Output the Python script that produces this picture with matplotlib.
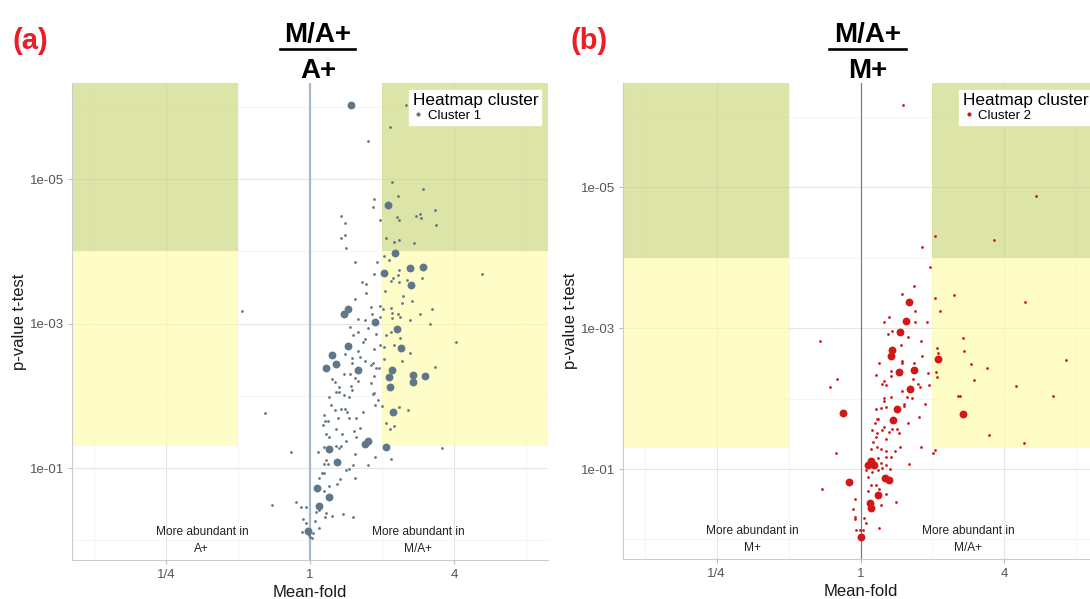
import numpy as np
import matplotlib.pyplot as plt
from matplotlib.lines import Line2D
from matplotlib.ticker import NullFormatter

plt.rcParams['font.family'] = ['Liberation Sans', 'DejaVu Sans']

# (log2 mean-fold, -log10 p)
a_small = [(1.33, 6.02), (1.11, 5.72), (0.81, 5.53), (1.14, 4.96), (1.56, 4.86), (0.89, 4.73), (1.22, 4.77),
           (0.87, 4.62), (0.43, 4.49), (0.49, 4.39), (0.97, 4.43), (1.21, 4.48), (1.24, 4.43), (1.47, 4.49),
           (1.52, 4.52), (1.54, 4.46), (1.73, 4.57), (1.75, 4.37), (0.43, 4.18), (0.49, 4.22), (1.05, 4.19),
           (1.17, 4.13), (1.24, 4.16), (1.44, 4.11), (0.50, 4.05),
           (1.03, 3.94), (1.10, 3.88), (0.93, 3.85), (0.62, 3.85), (0.89, 3.69), (1.24, 3.74), (1.22, 3.67),
           (1.15, 3.63), (1.13, 3.59), (1.23, 3.58), (1.35, 3.61), (1.55, 3.63), (2.39, 3.69), (0.72, 3.57),
           (0.77, 3.55), (0.78, 3.43), (1.04, 3.45), (1.29, 3.38), (1.41, 3.32), (1.28, 3.28), (0.62, 3.34),
           (-0.94, 3.18), (0.84, 3.23), (0.97, 3.25), (1.01, 3.20), (1.13, 3.22), (1.14, 3.15), (1.22, 3.13),
           (1.25, 3.09), (1.69, 3.20), (1.52, 3.14), (1.38, 3.05), (1.66, 3.00), (0.86, 3.13), (0.97, 3.09),
           (0.66, 3.07), (0.76, 3.05), (1.14, 3.08), (0.55, 2.96), (0.80, 2.94), (0.92, 2.86), (1.12, 2.88),
           (1.06, 2.85), (1.25, 2.80), (0.66, 2.89), (0.60, 2.85), (0.76, 2.79), (0.74, 2.75), (2.02, 2.75),
           (0.97, 2.71), (1.03, 2.68), (1.17, 2.70), (0.89, 2.65), (1.38, 2.59), (0.66, 2.62), (0.49, 2.58),
           (0.58, 2.52), (0.69, 2.54), (0.76, 2.49), (1.03, 2.51), (1.27, 2.48), (0.58, 2.46), (0.88, 2.45),
           (0.84, 2.43), (1.74, 2.40), (0.92, 2.38), (0.96, 2.38), (0.47, 2.31), (0.55, 2.31), (0.63, 2.25),
           (0.31, 2.23), (0.67, 2.20), (0.89, 2.28), (0.84, 2.18), (0.34, 2.19), (0.40, 2.13), (0.57, 2.14),
           (0.58, 2.08), (0.36, 2.05), (0.40, 2.05), (0.47, 2.01), (0.54, 1.98), (0.27, 1.98), (0.89, 2.04),
           (0.87, 2.02),
           (0.94, 1.94), (0.90, 1.88), (1.00, 1.86), (1.24, 1.85), (1.36, 1.80), (0.29, 1.87), (0.34, 1.81),
           (0.43, 1.82), (0.49, 1.82), (0.51, 1.78), (0.73, 1.78), (-0.62, 1.77), (0.20, 1.74), (0.21, 1.66),
           (0.25, 1.66), (0.18, 1.60), (0.39, 1.70), (0.54, 1.69), (0.64, 1.69), (1.06, 1.63), (1.17, 1.59),
           (1.11, 1.54), (0.69, 1.56), (0.36, 1.54), (0.61, 1.51), (0.22, 1.47), (0.26, 1.43), (0.45, 1.47),
           (0.64, 1.43), (0.50, 1.37), (1.83, 1.28), (0.36, 1.31), (0.43, 1.31), (0.40, 1.28), (0.20, 1.29),
           (-0.27, 1.22), (0.11, 1.22), (0.62, 1.20), (0.90, 1.16), (1.13, 1.13), (0.22, 1.11), (0.25, 1.06),
           (0.20, 1.06), (0.80, 1.05), (0.60, 1.04), (0.50, 0.98), (0.54, 0.99), (0.17, 0.94), (0.20, 0.94),
           (0.12, 0.86), (0.42, 0.85), (0.63, 0.86), (0.27, 0.76), (0.37, 0.78), (0.20, 0.69), (-0.53, 0.49),
           (-0.20, 0.53), (-0.12, 0.47), (-0.05, 0.47), (0.09, 0.40), (0.12, 0.42), (0.22, 0.38), (0.30, 0.34),
           (0.21, 0.32), (0.46, 0.37), (0.59, 0.32), (-0.10, 0.30), (0.07, 0.27), (-0.05, 0.24), (0.12, 0.17),
           (-0.11, 0.12), (0.04, 0.11), (0.00, 0.05), (0.03, 0.03), (-0.02, 0.07)]
a_big = [(0.57, 6.03), (1.08, 4.64), (1.18, 3.98), (1.38, 3.77), (1.56, 3.78), (1.02, 3.70), (1.40, 3.53),
         (0.52, 3.20), (0.47, 3.14), (0.90, 3.02), (1.21, 2.93), (0.52, 2.69), (1.26, 2.66), (0.30, 2.57),
         (0.36, 2.44), (0.22, 2.39), (0.67, 2.36), (1.14, 2.36), (1.43, 2.29), (1.59, 2.27), (1.10, 2.26),
         (1.43, 2.19), (1.11, 2.13), (1.15, 1.78), (0.80, 1.38), (0.76, 1.33), (1.06, 1.29), (0.26, 1.27),
         (0.37, 1.08), (0.10, 0.72), (0.26, 0.60), (0.13, 0.48), (-0.03, 0.13)]

b_small = [(0.59, 6.17), (2.44, 4.87), (1.03, 4.30), (1.86, 4.25), (0.86, 4.15),
           (0.97, 3.86), (0.74, 3.60), (0.57, 3.48), (1.03, 3.43), (1.30, 3.47), (2.28, 3.37), (0.76, 3.24),
           (1.10, 3.24), (0.40, 3.15), (0.33, 3.08), (0.76, 3.09), (0.92, 3.09), (0.44, 2.96), (0.38, 2.91),
           (0.66, 2.88), (-0.56, 2.81), (1.43, 2.86), (0.84, 2.82), (0.56, 2.76), (1.44, 2.68), (1.06, 2.71),
           (1.08, 2.65), (0.86, 2.61), (2.85, 2.54), (0.26, 2.50), (0.58, 2.53), (0.58, 2.50), (0.74, 2.50),
           (1.54, 2.49), (1.76, 2.43), (0.42, 2.39), (0.43, 2.32), (0.21, 2.34), (0.94, 2.36), (1.05, 2.37),
           (1.06, 2.30), (-0.32, 2.27), (-0.43, 2.16), (1.58, 2.26), (0.73, 2.27), (0.33, 2.25), (0.30, 2.21),
           (0.36, 2.19), (0.80, 2.21), (0.83, 2.16), (0.95, 2.19), (0.58, 2.11), (2.16, 2.18), (1.36, 2.04),
           (1.38, 2.03), (2.68, 2.03), (0.33, 2.01), (0.43, 2.02), (0.64, 2.02), (0.71, 2.01),
           (0.89, 1.92), (0.61, 1.92), (0.60, 1.90), (0.32, 1.96), (0.35, 1.88), (0.28, 1.86), (0.22, 1.85),
           (0.81, 1.74), (0.23, 1.71), (0.25, 1.71), (0.66, 1.65), (0.20, 1.65), (0.32, 1.59), (0.30, 1.56),
           (0.44, 1.57), (0.51, 1.57), (0.16, 1.56), (0.23, 1.51), (0.39, 1.52), (0.53, 1.51), (0.21, 1.45),
           (0.35, 1.42), (1.79, 1.48), (2.27, 1.37), (0.17, 1.39), (0.23, 1.31), (0.28, 1.29), (0.15, 1.29),
           (0.35, 1.26), (0.48, 1.26), (0.55, 1.31), (0.84, 1.31), (-0.34, 1.23), (1.01, 1.23), (1.04, 1.27),
           (0.25, 1.15), (0.36, 1.17), (0.43, 1.17), (0.29, 1.08), (0.36, 1.05), (0.41, 1.00), (0.30, 1.02),
           (0.67, 1.07), (0.08, 0.99), (0.16, 0.96), (0.24, 0.98), (0.11, 0.88), (0.15, 0.78), (0.22, 0.77),
           (0.26, 0.72), (-0.54, 0.71), (0.10, 0.69), (0.36, 0.65), (-0.08, 0.58), (0.49, 0.53), (0.28, 0.49),
           (-0.11, 0.43), (-0.08, 0.32), (-0.07, 0.29), (0.05, 0.31), (0.07, 0.23), (0.26, 0.16), (-0.06, 0.14),
           (-0.01, 0.13), (0.03, 0.14)]
b_big = [(0.68, 3.37), (0.63, 3.10), (0.55, 2.94), (0.44, 2.69), (0.42, 2.60), (1.07, 2.56), (0.54, 2.38),
         (0.74, 2.40), (0.69, 2.13), (0.51, 1.85), (-0.24, 1.80), (1.43, 1.78), (0.45, 1.69), (0.15, 1.11),
         (0.11, 1.05), (0.19, 1.06), (0.34, 0.87), (0.39, 0.84), (-0.16, 0.82), (0.24, 0.63), (0.13, 0.52),
         (0.15, 0.44), (0.00, 0.03)]

tags = ["(a)", "(b)"]
numerators = ["M/A+", "M/A+"]
denominators = ["A+", "M+"]
clusters = ["Cluster 1", "Cluster 2"]
left_notes = ["More abundant in\nA+", "More abundant in\nM+"]
right_notes = ["More abundant in\nM/A+", "More abundant in\nM/A+"]
x_ticks = [0.25, 1, 4]
x_ticklabels = ["1/4", "1", "4"]
y_ticks = [1e-05, 1e-03, 1e-01]
y_ticklabels = ["1e-05", "1e-03", "1e-01"]

W, H = 1090, 599
fig = plt.figure(figsize=(W / 100, H / 100), dpi=100)

# pixel boxes of the two panels: left, right, top, bottom
boxes = [(72, 548, 83, 560), (623, 1098, 83, 559)]
colors = ["#5f7788", "#d11717"]
vline_style = [dict(color="#a9b9c8", lw=1.6), dict(color="#6c7680", lw=0.8)]
title_x = [318, 868]
line_x = [(280, 355), (829, 906)]
tag_x = [12, 571]
green = (0.776, 0.824, 0.435)
yellow = (1.0, 0.99, 0.64)

for i, (small, big) in enumerate([(a_small, a_big), (b_small, b_big)]):
    l, r, t, b = boxes[i]
    ax = fig.add_axes([l / W, 1 - b / H, (r - l) / W, (b - t) / H])
    small = np.array(small).T
    big = np.array(big).T
    ax.set_xscale('log', base=2)
    ax.set_yscale('log')
    xlo, xhi = 2 ** -3.3, 2 ** 3.3
    nlp = np.concatenate([small[1], big[1]])
    pad = 0.05 * (nlp.max() - nlp.min())
    ybot, ytop = 10 ** (pad - nlp.min()), 10 ** -(nlp.max() + pad)
    ax.set_xlim(xlo, xhi)
    ax.set_ylim(ybot, ytop)

    for x0, x1 in [(xlo, 0.5), (2, xhi)]:
        ax.fill_between([x0, x1], 1e-4, ytop, color=green, alpha=0.6, lw=0, zorder=1)
        ax.fill_between([x0, x1], 0.05, 1e-4, color=yellow, alpha=0.6, lw=0, zorder=1)
    ax.axvline(1, zorder=2, **vline_style[i])

    ax.scatter(2 ** small[0], 10 ** -small[1], s=4, color=colors[i], lw=0, zorder=3)
    ax.scatter(2 ** big[0], 10 ** -big[1], s=32, color=colors[i], lw=0, zorder=3)

    ax.text(2 ** -1.5, 1, left_notes[i], ha='center', va='center', fontsize=8.6,
            linespacing=1.55, color='#222222', zorder=4)
    ax.text(2 ** 1.5, 1, right_notes[i], ha='center', va='center', fontsize=8.6,
            linespacing=1.55, color='#222222', zorder=4)

    ax.set_xticks(x_ticks, x_ticklabels)
    ax.set_xticks([0.125, 0.5, 2, 8], minor=True)
    ax.set_yticks(y_ticks, y_ticklabels)
    ax.set_yticks([1e-06, 1e-04, 1e-02, 1], minor=True)
    ax.xaxis.set_minor_formatter(NullFormatter())
    ax.yaxis.set_minor_formatter(NullFormatter())
    ax.tick_params(which='major', length=3, width=0.8, color='#bbbbbb', labelsize=9.5,
                   labelcolor='#555555')
    ax.tick_params(axis='y', which='major', pad=2.5)
    ax.tick_params(axis='x', which='major', pad=3.5)
    ax.tick_params(which='minor', length=0)
    ax.set_axisbelow(True)
    ax.grid(which='major', color='#e6e6e6', lw=0.8)
    ax.grid(which='minor', color='#f2f2f2', lw=0.5)
    for s in ['top', 'right']:
        ax.spines[s].set_visible(False)
    for s in ['left', 'bottom']:
        ax.spines[s].set_color('#cccccc')
        ax.spines[s].set_linewidth(0.8)

    ax.set_xlabel("Mean-fold", fontsize=12, color='#1a1a1a')
    ax.xaxis.set_label_coords(0.5, -0.053)
    ax.set_ylabel("p-value t-test", fontsize=12, color='#1a1a1a')
    ax.yaxis.set_label_coords(-0.095, 0.5)

    key = Line2D([], [], marker='o', ls='', ms=2, color=colors[i])
    leg = ax.legend([key], [clusters[i]], title="Heatmap cluster", loc='upper right',
                    bbox_to_anchor=(0.9863, 0.9853), borderaxespad=0, frameon=True,
                    fancybox=False, framealpha=1, edgecolor='white', fontsize=9.5,
                    title_fontsize=12.4, alignment='left', borderpad=0.25,
                    handlelength=0.9, handletextpad=0.3, labelspacing=0.1)
    leg.set_zorder(5)

    fig.text(title_x[i] / W, 1 - 41.7 / H, numerators[i], ha='center', va='baseline',
             fontsize=20, fontweight='bold')
    fig.text(title_x[i] / W, 1 - 78 / H, denominators[i], ha='center', va='baseline',
             fontsize=20, fontweight='bold')
    fig.add_artist(Line2D([line_x[i][0] / W, line_x[i][1] / W], [1 - 49.3 / H] * 2,
                          transform=fig.transFigure, color='black', lw=1.9))
    fig.text(tag_x[i] / W, 1 - 49 / H, tags[i], ha='left', va='baseline', fontsize=21,
             fontweight='bold', color='#ee1c24')

fig.savefig("out.png", dpi=100)
